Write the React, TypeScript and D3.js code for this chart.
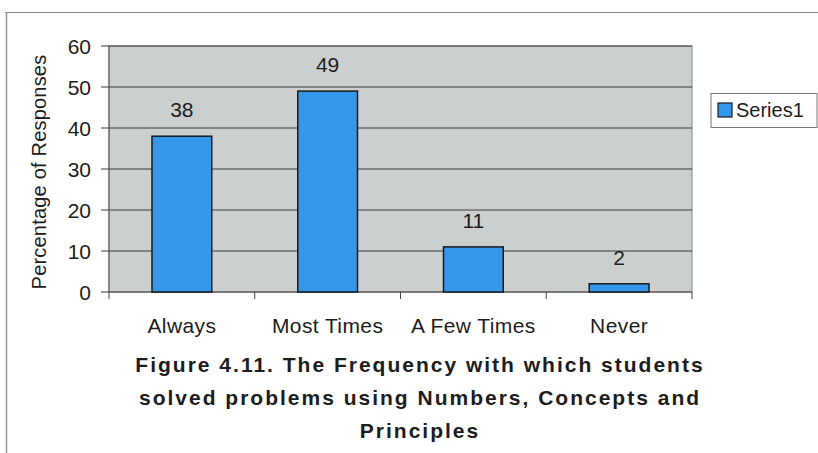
import React from "react";
import * as d3 from "d3";

const categories = ["Always", "Most Times", "A Few Times", "Never"];
const series1 = [38, 49, 11, 2];
const yTicks = [0, 10, 20, 30, 40, 50, 60];
const captionLines = [
  "Figure 4.11. The Frequency with which students",
  "solved problems using Numbers, Concepts and",
  "Principles",
];
const seriesName = "Series1";
const yTitle = "Percentage of Responses";

export default function App() {
  const W = 818, H = 453;
  const left = 109, right = 692, top = 46, bottom = 292;
  const x = d3.scaleBand<string>().domain(categories).range([left, right]).paddingInner(0.59).paddingOuter(0.295);
  const xb = d3.scaleBand<string>().domain(categories).range([left, right]);
  const y = d3.scaleLinear().domain([0, 60]).range([bottom, top]);
  const font = "Arial, 'Liberation Sans', Helvetica, sans-serif";
  const ink = "#1c1c1c";
  return (
    <svg width={W} height={H} style={{ position: "absolute", left: 0, top: 0, background: "#fff" }} fontFamily={font}>
      <rect x={0} y={0} width={W} height={H} fill="#fff" />
      {/* frame */}
      <line x1={5} y1={12.5} x2={W} y2={12.5} stroke="#888" strokeWidth={1} />
      <line x1={6.5} y1={12} x2={6.5} y2={H} stroke="#999" strokeWidth={1.5} />
      {/* plot area */}
      <rect x={left} y={top} width={right - left} height={bottom - top} fill="#cbcfce" stroke="#888" strokeWidth={1} />
      {yTicks.map((t) => (
        <g key={t}>
          <line x1={left} x2={right} y1={y(t)} y2={y(t)} stroke="#3a3a3a" strokeWidth={1} />
          <line x1={left - 8} x2={left} y1={y(t)} y2={y(t)} stroke="#3a3a3a" strokeWidth={1} />
          <text x={91} y={y(t)} dy="0.36em" textAnchor="end" fontSize={21} fill={ink}>{t}</text>
        </g>
      ))}
      <line x1={left} x2={left} y1={top} y2={bottom} stroke="#555" strokeWidth={1} />
      {/* category ticks */}
      {categories.map((c) => (
        <line key={c} x1={xb(c)!} x2={xb(c)!} y1={bottom} y2={bottom + 7} stroke="#444" strokeWidth={1} />
      ))}
      <line x1={right} x2={right} y1={bottom} y2={bottom + 7} stroke="#444" strokeWidth={1} />
      {/* bars */}
      {categories.map((c, i) => (
        <g key={c}>
          <rect x={x(c)!} y={y(series1[i])} width={x.bandwidth()} height={bottom - y(series1[i])} fill="#3597ea" stroke="#1a1a1a" strokeWidth={1.5} />
          <text x={x(c)! + x.bandwidth() / 2} y={y(series1[i]) - 19} textAnchor="middle" fontSize={21} fill={ink}>{series1[i]}</text>
          <text x={xb(c)! + xb.bandwidth() / 2} y={333} textAnchor="middle" fontSize={21} letterSpacing={0.4} fill={ink}>{c}</text>
        </g>
      ))}
      {/* y title */}
      <text transform={`translate(46,172) rotate(-90)`} textAnchor="middle" fontSize={20} letterSpacing={0.2} fill={ink}>{yTitle}</text>
      {/* legend */}
      <rect x={711} y={93.5} width={106} height={34} fill="#fff" stroke="#777" strokeWidth={1} />
      <rect x={718} y={103} width={14} height={14} fill="#3597ea" stroke="#1a1a1a" strokeWidth={1.2} />
      <text x={736} y={110} dy="0.36em" fontSize={20} fill={ink}>{seriesName}</text>
      {/* caption */}
      {captionLines.map((l, i) => (
        <text key={i} x={420} y={372 + i * 33} textAnchor="middle" fontSize={21} fontWeight="bold" fill={ink} letterSpacing={2}>{l}</text>
      ))}
    </svg>
  );
}
